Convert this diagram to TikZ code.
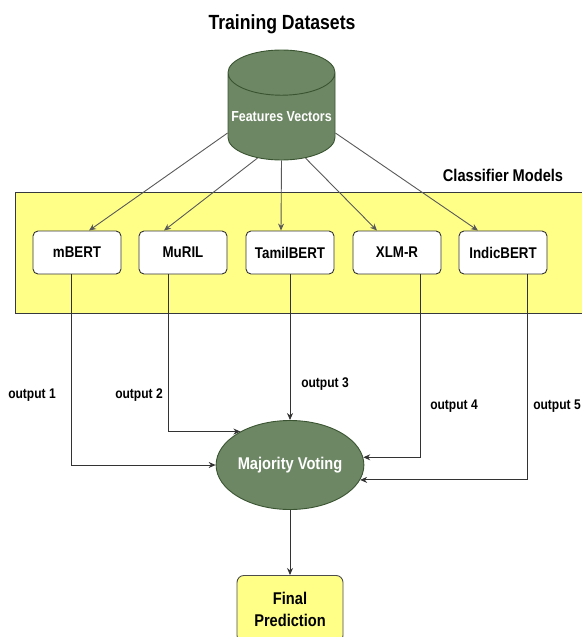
\documentclass[tikz,border=0pt]{standalone}
\usepackage{fontspec}
\setmainfont{Liberation Sans}[FakeStretch=0.86]
\usetikzlibrary{shapes.geometric,arrows.meta}
\definecolor{sage}{HTML}{6D8764}
\definecolor{sageline}{HTML}{3A5431}
\definecolor{pad}{HTML}{FFFF88}
\definecolor{padline}{HTML}{36393D}
\begin{document}
\begin{tikzpicture}[x=1pt,y=-1pt,line width=0.9pt,
    model/.style={draw=black!80,fill=white,rounded corners=5pt,minimum width=88pt,minimum height=43pt,inner sep=0pt,font=\bfseries\fontsize{15.5}{18}\selectfont},
    store/.style={cylinder,shape border rotate=90,aspect=0.45,minimum width=107pt,minimum height=110pt,draw=sageline,fill=sage,text=white,inner sep=0pt,font=\bfseries\fontsize{14.5}{17}\selectfont},
    vote/.style={ellipse,draw=sageline,fill=sage,text=white,minimum width=142pt,minimum height=89pt,inner sep=0pt,font=\bfseries\fontsize{17}{20}\selectfont},
    result/.style={draw=black!70,fill=pad,rounded corners=7pt,minimum width=106pt,minimum height=67pt,inner sep=0pt,align=center,font=\bfseries\fontsize{17}{22}\selectfont},
    heading/.style={font=\bfseries\fontsize{#1}{#1}\selectfont},
    outlabel/.style={font=\bfseries\fontsize{14}{16}\selectfont},
    feed/.style={draw=black!65,-{Stealth[length=7pt,width=6pt]}},
    link/.style={draw=black!80,-{Stealth[length=7pt,width=6pt]}}]
  \useasboundingbox (0,0) rectangle (581,637);%

  % panel of classifier models
  \fill[pad,draw=padline] (15,192) rectangle (600,313);%
  \node[heading=17] (cm) at (503,175) {Classifier Models};%
  \node[heading=20.5] (td) at (282,24) {Training Datasets};%

  \node[store,anchor=shape center] (fv) at (281.5,105) {Features Vectors};%

  \node[model] (mbert) at (77,252.5) {mBERT};%
  \node[model] (muril) at (183,252.5) {MuRIL};%
  \node[model] (tamil) at (290,252.5) {TamilBERT};%
  \node[model] (xlmr) at (397,252.5) {XLM-R};%
  \node[model] (indic) at (503,252.5) {IndicBERT};%

  \node[vote] (mv) at (290,465) {Majority Voting};%
  \node[result,anchor=north] (fp) at (290,575) {Final\\Prediction};%

  % features to models
  \draw[feed] (fv.197) -- ([xshift=12pt]mbert.north);%
  \draw[feed] (fv.240) -- ([xshift=-19pt]muril.north);%
  \draw[feed] (fv.270) -- ([xshift=-9pt]tamil.north);%
  \draw[feed] (fv.300) -- ([xshift=-20pt]xlmr.north);%
  \draw[feed] (fv.343) -- ([xshift=-25pt]indic.north);%

  % models to voting
  \draw[link] ([xshift=-6pt]mbert.south) |- (mv.west);%
  \draw[link] ([xshift=-15pt]muril.south) |- (mv.146);%
  \draw[link] (tamil.south) -- (mv.north);%
  \draw[link] ([xshift=23pt]xlmr.south) |- (mv.6);%
  \draw[link] ([xshift=24pt]indic.south) |- (mv.348);%
  \draw[link] (mv.south) -- (fp.north);%

  \node[outlabel] (o1) at (32,395) {output 1};%
  \node[outlabel] (o2) at (139,395) {output 2};%
  \node[outlabel] (o3) at (325,384) {output 3};%
  \node[outlabel] (o4) at (454,406) {output 4};%
  \node[outlabel] (o5) at (557,406) {output 5};%
\end{tikzpicture}
\end{document}
